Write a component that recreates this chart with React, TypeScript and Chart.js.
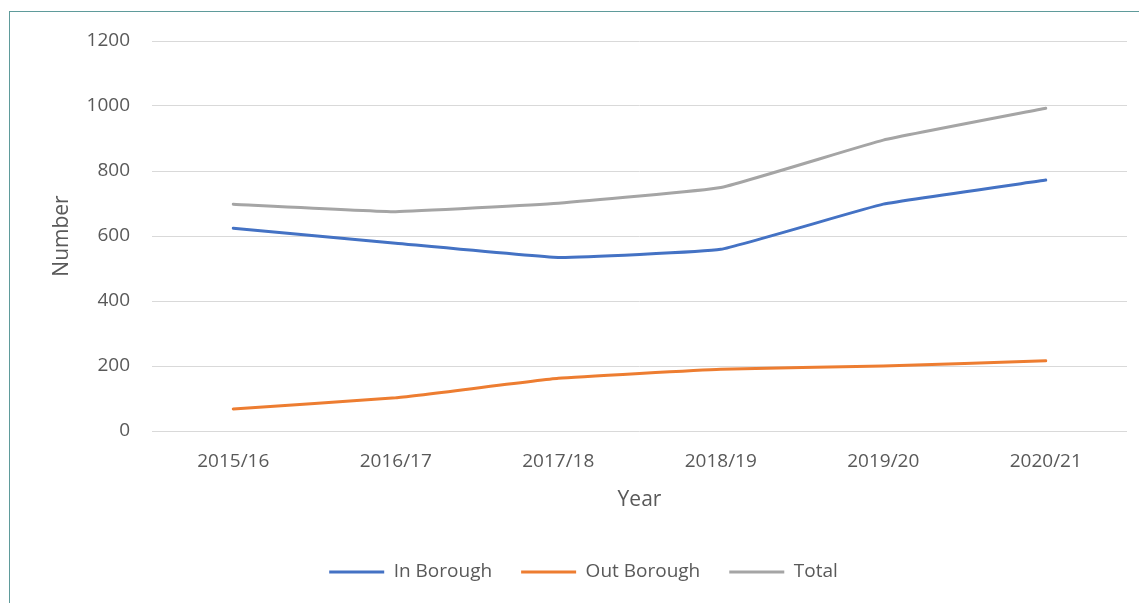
import React, { useEffect, useRef } from "react";
import { Chart, registerables } from "chart.js";

Chart.register(...registerables);

const years = ["2015/16", "2016/17", "2017/18", "2018/19", "2019/20", "2020/21"];
const inBorough = [624, 578, 534, 559, 698, 772];
const outBorough = [68, 102, 162, 190, 200, 216];
const total = [698, 675, 701, 749, 895, 993];

const FONT = "'Open Sans', 'Liberation Sans', sans-serif";
const TEXT = "#595959";

export default function App() {
  const ref = useRef<HTMLCanvasElement | null>(null);

  useEffect(() => {
    if (!ref.current) return;
    const chart = new Chart(ref.current, {
      type: "line",
      data: {
        labels: years,
        datasets: [
          { label: "In Borough", data: inBorough, borderColor: "#4472c4", backgroundColor: "#4472c4", borderWidth: 3 },
          { label: "Out Borough", data: outBorough, borderColor: "#ed7d31", backgroundColor: "#ed7d31", borderWidth: 3 },
          { label: "Total", data: total, borderColor: "#a5a5a5", backgroundColor: "#a5a5a5", borderWidth: 3 },
        ],
      },
      options: {
        animation: false,
        responsive: true,
        maintainAspectRatio: false,
        layout: { padding: { left: 40, right: 12, top: 41, bottom: 11.5 } },
        elements: {
          line: { borderWidth: 3, tension: 0.1, borderCapStyle: "round", borderJoinStyle: "round" },
          point: { radius: 0, hoverRadius: 0 },
        },
        plugins: {
          tooltip: { enabled: false },
          legend: {
            position: "bottom",
            labels: {
              usePointStyle: true,
              pointStyle: "line",
              pointStyleWidth: 55,
              boxHeight: 3,
              padding: 29,
              color: TEXT,
              font: { family: FONT, size: 19 },
            },
          },
        },
        scales: {
          x: {
            offset: true,
            grid: { display: false, drawTicks: false },
            border: { display: false },
            ticks: { color: TEXT, font: { family: FONT, size: 19 }, padding: 19, maxRotation: 0 },
            title: {
              display: true,
              text: "Year",
              color: TEXT,
              font: { family: FONT, size: 21 },
              padding: { top: 0, bottom: 21 },
            },
            afterFit: (scale: any) => {
              scale.height = 102.5;
            },
          },
          y: {
            min: 0,
            max: 1200,
            ticks: {
              stepSize: 200,
              color: TEXT,
              font: { family: FONT, size: 19 },
              padding: 22,
              callback: (v: any) => String(v),
            },
            grid: { color: "#d9d9d9", lineWidth: 1, drawTicks: false },
            border: { display: false },
            title: {
              display: true,
              text: "Number",
              color: TEXT,
              font: { family: FONT, size: 21 },
              padding: { top: 9, bottom: 0 },
            },
            afterFit: (scale: any) => {
              scale.width = 112;
            },
          },
        },
      },
    });
    return () => chart.destroy();
  }, []);

  return (
    <div
      style={{
        position: "fixed",
        left: 0,
        top: 0,
        width: 1139,
        height: 603,
        background: "#ffffff",
        overflow: "hidden",
      }}
    >
      <canvas ref={ref} />
      <div style={{ position: "absolute", left: 9, top: 11, right: 0, height: 1, background: "#5f9b9b" }} />
      <div style={{ position: "absolute", left: 9, top: 11, bottom: 0, width: 1, background: "#5f9b9b" }} />
    </div>
  );
}
